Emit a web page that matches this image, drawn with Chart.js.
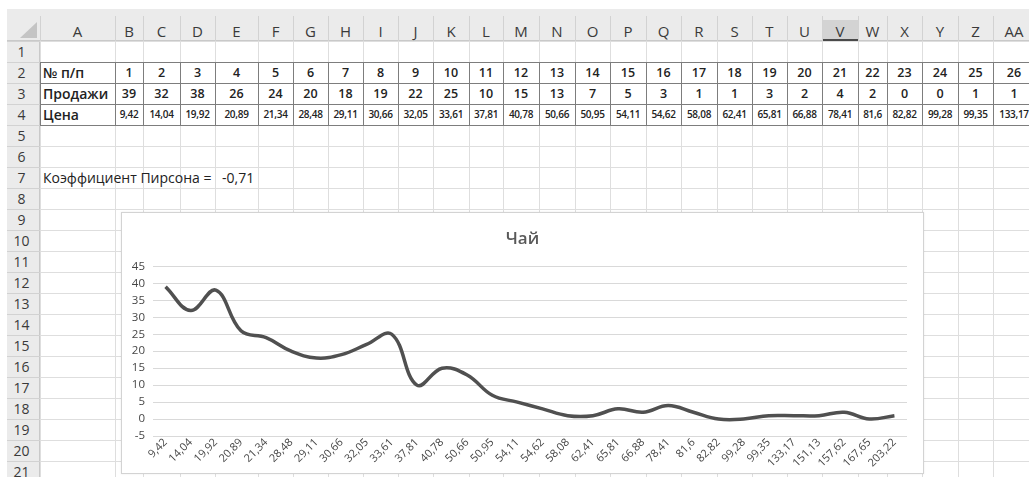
<!DOCTYPE html>
<html><head><meta charset="utf-8">
<script src="https://cdn.jsdelivr.net/npm/chart.js@4.4.1/dist/chart.umd.min.js"></script>
<style>
html,body{margin:0;padding:0;background:#fff;width:1029px;height:477px;overflow:hidden;font-family:'Open Sans',sans-serif;color:#222}
#sheet{position:absolute;left:0;top:0;width:1029px;height:477px;overflow:hidden}
.a{position:absolute;box-sizing:border-box;white-space:nowrap}
#chartBox{position:absolute;left:121px;top:212px;width:801px;height:260px;border:1px solid #d3d3d3;background:#fff;box-shadow:0 0 2px rgba(0,0,0,0.08)}
#c{display:block}
</style></head><body>
<div id="sheet"></div>
<div id="chartBox"><canvas id="c" width="801" height="260"></canvas></div>
<script>
// ---- data ----
const columnLetters = ['A','B','C','D','E','F','G','H','I','J','K','L','M','N','O','P','Q','R','S','T','U','V','W','X','Y','Z','AA'];
const seqNumbers = [1,2,3,4,5,6,7,8,9,10,11,12,13,14,15,16,17,18,19,20,21,22,23,24,25,26];
const prices = ['9,42','14,04','19,92','20,89','21,34','28,48','29,11','30,66','32,05','33,61','37,81','40,78','50,66','50,95','54,11','54,62','58,08','62,41','65,81','66,88','78,41','81,6','82,82','99,28','99,35','133,17','151,13','157,62','167,65','203,22'];
const sales = [39,32,38,26,24,20,18,19,22,25,10,15,13,7,5,3,1,1,3,2,4,2,0,0,1,1,1,2,0,1];
const rowLabels = ['№ п/п','Продажи','Цена'];
const pearsonLabel = 'Коэффициент Пирсона =';
const pearsonValue = '-0,71';
const chartTitle = 'Чай';
const yMin = -5, yMax = 45, yStep = 5;

// ---- layout (not data) ----
const colWidths = [75,28,37,35,43,35,35,35,35,35,36,34,36,36,35,36,35,36,35,35,35,36,29,35,36,35,42];
const sheetLeft = 40, headerTop = 9, rowTop = 41, rowH = 21, nRows = 21;

const sheet = document.getElementById('sheet');
function el(style, text){
  const d = document.createElement('div');
  d.className = 'a';
  Object.assign(d.style, style);
  if (text !== undefined) d.textContent = text;
  sheet.appendChild(d);
  return d;
}
const colX = [sheetLeft];
colWidths.forEach(w => colX.push(colX[colX.length-1] + w));

// header backgrounds
el({left:'7px',top:headerTop+'px',width:'1022px',height:(rowTop-headerTop)+'px',background:'#ebebeb',borderBottom:'1px solid #c9c9c9'});
el({left:'7px',top:rowTop+'px',width:'33px',height:(477-rowTop)+'px',background:'#ebebeb',borderRight:'1px solid #c9c9c9'});
// corner triangle
el({left:'20px',top:'22px',width:'0',height:'0',borderLeft:'17px solid transparent',borderBottom:'16px solid #c4c4c4'});

// grid lines
for (let r = 0; r <= nRows; r++) {
  const y = rowTop + r*rowH;
  el({left:sheetLeft+'px',top:y+'px',width:(1029-sheetLeft)+'px',height:'1px',background:'#dedede'});
  el({left:'7px',top:y+'px',width:'33px',height:'1px',background:'#d2d2d2'});
}
for (let c = 0; c < colX.length; c++) {
  el({left:colX[c]+'px',top:rowTop+'px',width:'1px',height:(477-rowTop)+'px',background:'#dedede'});
  el({left:colX[c]+'px',top:'16px',width:'1px',height:(rowTop-16)+'px',background:'#d2d2d2'});
}

// column headers
columnLetters.forEach((L,i) => {
  if (L === 'V') el({left:(colX[i]+1)+'px',top:'20px',width:(colWidths[i]-1)+'px',height:'21px',background:'#d3d3d3',borderBottom:'2px solid #4a4a4a'});
  el({left:colX[i]+'px',top:'21px',width:colWidths[i]+'px',height:'20px',lineHeight:'20px',textAlign:'center',fontSize:'15px',color:'#3a3a3a'}, L);
});
// row headers
for (let r = 1; r <= nRows; r++) {
  el({left:'7px',top:(rowTop+(r-1)*rowH)+'px',width:'29px',height:rowH+'px',lineHeight:rowH+'px',textAlign:'center',fontSize:'14px',color:'#3a3a3a'}, String(r));
}

// table borders rows 2..4
const tTop = rowTop + rowH, tBot = rowTop + 4*rowH;
for (let r = 1; r <= 4; r++) {
  el({left:sheetLeft+'px',top:(rowTop + r*rowH)+'px',width:(1029-sheetLeft)+'px',height:'1px',background:'#7d7d7d'});
}
for (let c = 0; c < colX.length; c++) {
  el({left:colX[c]+'px',top:tTop+'px',width:'1px',height:(tBot-tTop+1)+'px',background:'#7d7d7d'});
}

function cell(row, col, text, opts){
  const y = rowTop + (row-1)*rowH;
  const o = Object.assign({left:colX[col]+'px',top:y+'px',width:colWidths[col]+'px',height:rowH+'px',lineHeight:rowH+'px',textAlign:'center',fontSize:'12.5px',fontWeight:'600',color:'#222'}, opts||{});
  el(o, text);
}
rowLabels.forEach((t,i) => cell(2+i, 0, t, {textAlign:'left',paddingLeft:'3px',fontSize:'14px'}));
seqNumbers.forEach((v,i) => cell(2, i+1, String(v)));
sales.slice(0, seqNumbers.length).forEach((v,i) => cell(3, i+1, String(v)));
prices.slice(0, seqNumbers.length).forEach((v,i) => cell(4, i+1, v, {fontSize:'10px',letterSpacing:'-0.3px'}));
cell(7, 0, pearsonLabel, {textAlign:'left',paddingLeft:'3px',fontSize:'14px',fontWeight:'400',width:'auto'});
cell(7, 4, pearsonValue, {textAlign:'left',paddingLeft:'7px',fontSize:'14px',fontWeight:'400',width:'auto'});

// ---- chart ----
const axisColor = '#464646';
new Chart(document.getElementById('c'), {
  type: 'line',
  data: {
    labels: prices,
    datasets: [{
      data: sales,
      yAxisID: 'y',
      borderColor: '#505050',
      borderWidth: 3.5,
      pointRadius: 0,
      tension: 0.4,
      fill: false
    }]
  },
  options: {
    responsive: false,
    animation: false,
    devicePixelRatio: 1,
    layout: {padding: 0},
    plugins: {
      legend: {display: false},
      tooltip: {enabled: false},
      title: {
        display: true, text: chartTitle, color: '#595959',
        font: {family: 'Open Sans', size: 17, weight: '600'},
        padding: {top: 16, bottom: 17}
      }
    },
    scales: {
      x: {
        offset: true,
        grid: {display: false},
        border: {display: false},
        ticks: {autoSkip: false, minRotation: 45, maxRotation: 45, color: axisColor, font: {family: 'Open Sans', size: 11}, padding: -8},
        afterFit: s => { s.height = 37; }
      },
      y: {
        min: yMin, max: yMax,
        ticks: {stepSize: yStep, color: axisColor, font: {family: 'Open Sans', size: 11.5}, padding: 8},
        grid: {color: '#d9d9d9', drawTicks: false},
        border: {display: false},
        afterFit: s => { s.width = 31; }
      },
      yRightSpace: {
        position: 'right',
        display: true,
        grid: {display: false},
        border: {display: false},
        ticks: {display: false},
        afterFit: s => { s.width = 16; }
      }
    }
  }
});
</script>
</body></html>
